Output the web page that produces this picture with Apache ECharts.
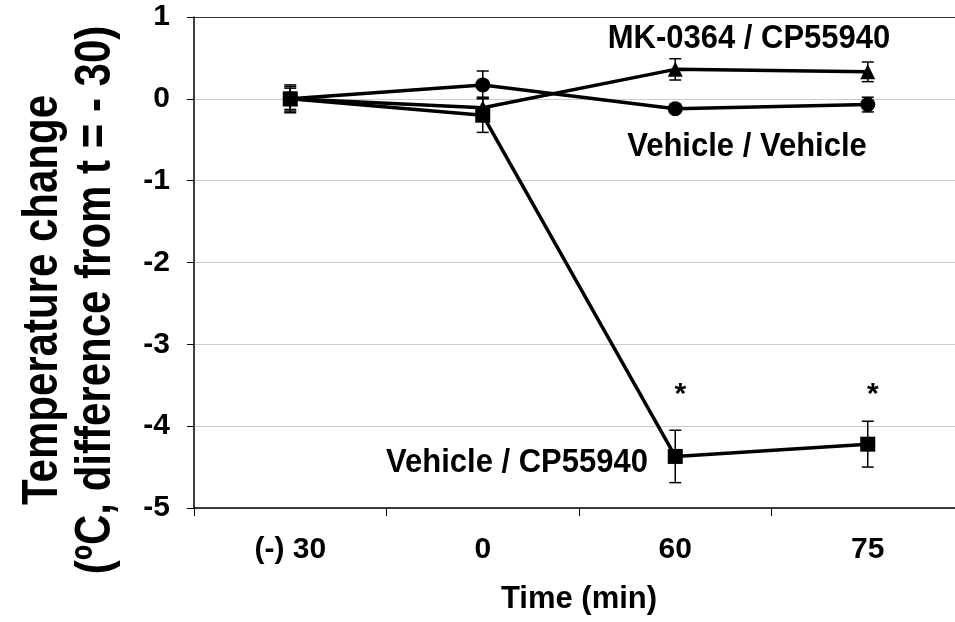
<!DOCTYPE html>
<html>
<head>
<meta charset="utf-8">
<script src="https://cdn.jsdelivr.net/npm/echarts@6/dist/echarts.min.js"></script>
<style>
  html, body { margin: 0; padding: 0; background: #fff; overflow: hidden; }
  /* plot area runs a little past the right edge of the window, as in the original */
  #chart { width: 970px; height: 622px; }
</style>
</head>
<body>
<div id="chart"></div>
<script>
// time points (min)
const categories = ['(-) 30', '0', '60', '75']

// mean temperature change and SEM for each group
const vehVeh = [0, 0.17, -0.12, -0.07]
const vehVehErr = [0.15, 0.17, 0.04, 0.09]
const mkCp = [0, -0.11, 0.36, 0.33]
const mkCpErr = [0.13, 0.13, 0.13, 0.12]
const vehCp = [0, -0.2, -4.37, -4.22]
const vehCpErr = [0.17, 0.21, 0.32, 0.28]
const vehCpSig = ['', '', '*', '*']

const font = "'Liberation Sans', Arial, sans-serif"

function errorSeries(vals, errs, sig) {
  return {
    type: 'custom',
    z: 1,
    silent: true,
    data: vals.map((v, i) => [i, v, errs[i]]),
    renderItem(params, api) {
      const i = api.value(0)
      const v = api.value(1)
      const e = api.value(2)
      const hi = api.coord([i, v + e])
      const lo = api.coord([i, v - e])
      const cap = 6
      const style = { stroke: '#000', lineWidth: 1.5 }
      const children = [
        { type: 'line', shape: { x1: hi[0], y1: hi[1], x2: lo[0], y2: lo[1] }, style },
        { type: 'line', shape: { x1: hi[0] - cap, y1: hi[1], x2: hi[0] + cap, y2: hi[1] }, style },
        { type: 'line', shape: { x1: lo[0] - cap, y1: lo[1], x2: lo[0] + cap, y2: lo[1] }, style }
      ]
      const mark = sig ? sig[params.dataIndex] : ''
      if (mark) {
        const p = api.coord([i, -3.62])
        children.push({
          type: 'text',
          x: p[0] + 5,
          y: p[1],
          style: {
            text: mark, font: 'bold 30px ' + font, fill: '#000',
            align: 'center', verticalAlign: 'middle'
          }
        })
      }
      return { type: 'group', children }
    }
  }
}

function lineSeries(name, vals, symbol, size) {
  return {
    name,
    type: 'line',
    z: 3,
    data: vals,
    symbol,
    symbolSize: size,
    showAllSymbol: true,
    lineStyle: { color: '#000', width: 3.5 },
    itemStyle: { color: '#000', borderWidth: 0 },
    emphasis: { disabled: true }
  }
}

function label(text, x, y) {
  return {
    type: 'text', x, y, scaleY: 1.08,
    style: { text, font: 'bold 31px ' + font, fill: '#000', align: 'center', verticalAlign: 'middle' }
  }
}

const chart = echarts.init(document.getElementById('chart'))

chart.setOption({
  animation: false,
  backgroundColor: '#fff',
  grid: { left: 194, top: 17, width: 770, height: 491, containLabel: false },
  xAxis: {
    type: 'category',
    data: categories,
    boundaryGap: true,
    name: 'Time (min)',
    nameLocation: 'middle',
    nameGap: 76,
    nameTextStyle: { fontFamily: font, fontWeight: 'bold', fontSize: 31, color: '#000' },
    axisLine: { onZero: false, lineStyle: { color: '#000', width: 1.5 } },
    axisTick: { show: true, length: 8, lineStyle: { color: '#000' } },
    axisLabel: { margin: 27, fontFamily: font, fontWeight: 'bold', fontSize: 30, color: '#000' }
  },
  yAxis: {
    type: 'value',
    min: -5,
    max: 1,
    interval: 1,
    axisLine: { show: true, lineStyle: { color: '#000', width: 1.5 } },
    axisTick: { show: true, length: 7, lineStyle: { color: '#000' } },
    axisLabel: { margin: 24, fontFamily: font, fontWeight: 'bold', fontSize: 30, color: '#000' },
    splitLine: {
      show: true,
      lineStyle: { color: ['#ccc', '#ccc', '#ccc', '#ccc', '#ccc', '#ccc', '#333'], width: 1 }
    }
  },
  graphic: [
    {
      type: 'text',
      x: 70,
      y: 300,
      rotation: Math.PI / 2,
      scaleY: 1.2,
      style: {
        text: 'Temperature change\n(ºC, difference from t = - 30)',
        font: 'bold 42px ' + font,
        lineHeight: 44,
        fill: '#000',
        align: 'center',
        verticalAlign: 'middle'
      }
    },
    label('MK-0364 / CP55940', 749, 39),
    label('Vehicle / Vehicle', 747, 147),
    label('Vehicle / CP55940', 517, 463)
  ],
  series: [
    errorSeries(vehVeh, vehVehErr),
    errorSeries(mkCp, mkCpErr),
    errorSeries(vehCp, vehCpErr, vehCpSig),
    lineSeries('Vehicle / Vehicle', vehVeh, 'circle', 15),
    lineSeries('MK-0364 / CP55940', mkCp, 'triangle', 15),
    lineSeries('Vehicle / CP55940', vehCp, 'rect', 15)
  ]
})
</script>
</body>
</html>
